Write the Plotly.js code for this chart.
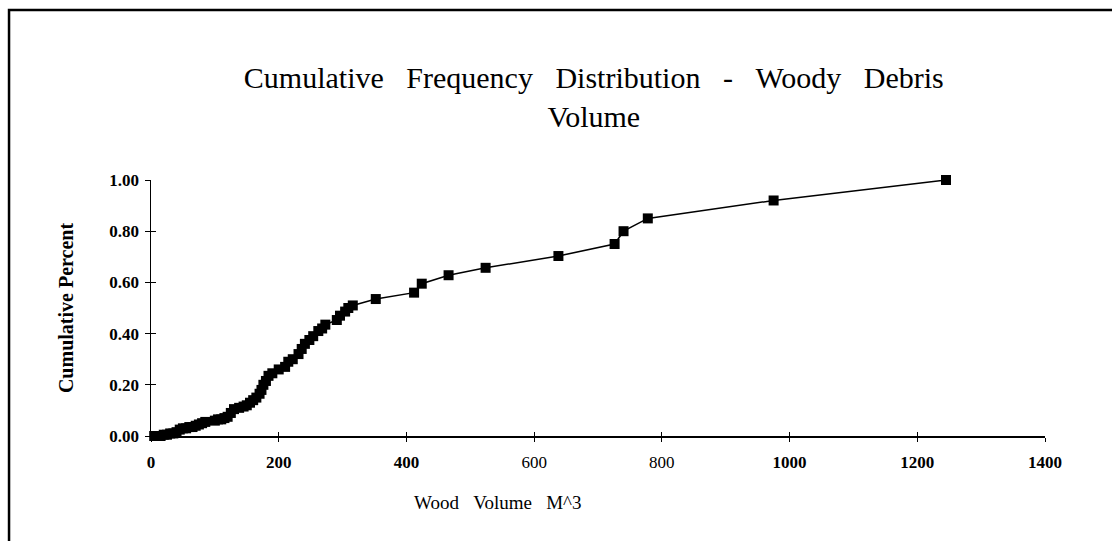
<!DOCTYPE html>
<html>
<head>
<meta charset="utf-8">
<script src="https://cdn.plot.ly/plotly-3.0.1.min.js"></script>
<style>
  html, body { margin: 0; padding: 0; background: #fff; }
  #chart { width: 1112px; height: 541px; }
</style>
</head>
<body>
<div id="chart"></div>
<script>
// Wood volume (M^3)
const volume = [5, 10, 15, 20, 25, 30, 35, 40, 45, 50, 55, 60, 65, 70, 75, 80, 85,
  100, 105, 110, 115, 120, 125, 130, 138, 145, 150, 155, 160, 165, 170, 173, 176, 180,
  184, 190, 200, 210, 215, 222, 231, 236, 241, 248, 254, 262, 268, 273,
  291, 296, 304, 309, 316, 352, 412, 424, 466, 524, 638, 726, 740, 778, 975, 1245];
// Cumulative percent
const cumPercent = [0.00, 0.00, 0.00, 0.005, 0.005, 0.01, 0.01, 0.015, 0.025, 0.03, 0.03, 0.035, 0.035, 0.04, 0.045, 0.05, 0.055,
  0.06, 0.065, 0.065, 0.07, 0.075, 0.09, 0.105, 0.11, 0.115, 0.12, 0.13, 0.14, 0.15, 0.165, 0.18, 0.20, 0.215,
  0.235, 0.245, 0.26, 0.27, 0.29, 0.30, 0.32, 0.34, 0.36, 0.375, 0.39, 0.41, 0.42, 0.435,
  0.453, 0.47, 0.486, 0.50, 0.51, 0.535, 0.56, 0.595, 0.628, 0.657, 0.703, 0.75, 0.80, 0.85, 0.92, 1.00];

const xTickVals = [0, 200, 400, 600, 800, 1000, 1200, 1400];
const xTickText = ['<b>0</b>', '<b>200</b>', '<b>400</b>', '600', '800', '<b>1000</b>', '<b>1200</b>', '<b>1400</b>'];
const yTickVals = [0, 0.2, 0.4, 0.6, 0.8, 1.0];
const yTickText = ['<b>0.00</b>', '<b>0.20</b>', '<b>0.40</b>', '<b>0.60</b>', '<b>0.80</b>', '<b>1.00</b>'];

const serif = '"Liberation Serif", "Times New Roman", serif';
const gap3 = '\u00a0\u00a0\u00a0';

const trace = {
  x: volume,
  y: cumPercent,
  type: 'scatter',
  mode: 'lines+markers',
  line: { color: '#000', width: 1.5 },
  marker: { symbol: 'square', size: 10, color: '#000' },
  cliponaxis: false,
  hoverinfo: 'x+y'
};

const layout = {
  width: 1112,
  height: 541,
  margin: { l: 151, r: 67, t: 180, b: 105 },
  paper_bgcolor: '#fff',
  plot_bgcolor: '#fff',
  showlegend: false,
  title: {
    text: ['Cumulative', 'Frequency', 'Distribution', '-', 'Woody', 'Debris'].join(gap3) + '<br>Volume',
    font: { family: serif, size: 30, color: '#000' },
    x: 0.534, xanchor: 'center',
    y: 0.838, yanchor: 'middle'
  },
  xaxis: {
    range: [0, 1400],
    tickvals: xTickVals,
    ticktext: xTickText,
    showgrid: false,
    zeroline: false,
    showline: true,
    linecolor: '#000',
    linewidth: 1.5,
    ticks: 'outside',
    ticklen: 4,
    tickwidth: 1,
    tickcolor: '#000',
    ticklabelstandoff: 6,
    tickfont: { family: serif, size: 17, color: '#000' }
  },
  xaxis2: {
    range: [0, 1400], overlaying: 'x', anchor: 'y',
    tickvals: xTickVals, showticklabels: false, showgrid: false, zeroline: false,
    ticks: 'inside', ticklen: 4, tickwidth: 1, tickcolor: '#000'
  },
  yaxis: {
    range: [0, 1],
    tickvals: yTickVals,
    ticktext: yTickText,
    showgrid: false,
    zeroline: false,
    showline: true,
    linecolor: '#000',
    linewidth: 1.5,
    ticks: 'outside',
    ticklen: 5,
    tickwidth: 1,
    tickcolor: '#000',
    ticklabelstandoff: 2,
    tickfont: { family: serif, size: 17, color: '#000' },
    title: { text: '<b>Cumulative Percent</b>', font: { family: serif, size: 20, color: '#000' }, standoff: 30 }
  },
  yaxis2: {
    range: [0, 1], overlaying: 'y', anchor: 'x',
    tickvals: yTickVals, showticklabels: false, showgrid: false, zeroline: false,
    ticks: 'inside', ticklen: 5, tickwidth: 1, tickcolor: '#000'
  },
  annotations: [{
    text: 'Wood' + gap3 + 'Volume' + gap3 + 'M^3',
    xref: 'paper', yref: 'paper',
    x: 0.388, y: -0.258, xanchor: 'center', yanchor: 'middle',
    showarrow: false,
    font: { family: serif, size: 19, color: '#000' }
  }],
  shapes: [{
    type: 'path', xref: 'paper', yref: 'paper',
    path: 'M -0.1588 -0.45 L -0.1588 1.664 L 1.09 1.664',
    line: { color: '#000', width: 2.5 }
  }]
};

const helper = { x: [0], y: [0], xaxis: 'x2', yaxis: 'y2', mode: 'markers', marker: { opacity: 0 }, hoverinfo: 'skip', showlegend: false };

Plotly.newPlot('chart', [helper, trace], layout, { displayModeBar: false, staticPlot: true });
</script>
</body>
</html>
